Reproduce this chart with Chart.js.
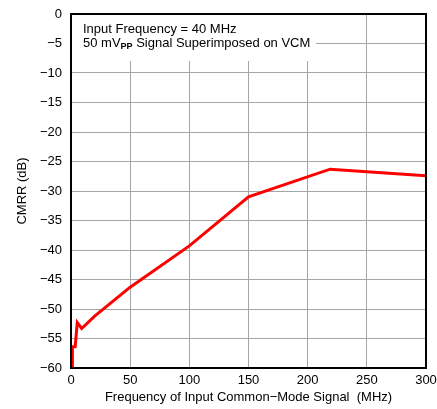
<!DOCTYPE html>
<html>
<head>
<meta charset="utf-8">
<script src="https://cdn.jsdelivr.net/npm/chart.js@4/dist/chart.umd.min.js"></script>
<style>
  html, body { margin: 0; padding: 0; background: #fff; }
  #wrap { width: 437px; height: 409px; }
</style>
</head>
<body>
<div id="wrap"><canvas id="cmrrChart" width="437" height="409"></canvas></div>
<script>
// Data
const freqMHz = [0.9, 1.2, 3.5, 5.3, 9, 20, 50, 100, 150, 219, 300];
const cmrrDb = [-60, -56.4, -56.4, -52.3, -53.3, -51.2, -46.3, -39.3, -31.0, -26.3, -27.4];

const xTicks = [0, 50, 100, 150, 200, 250, 300];
const yTicks = [0, -5, -10, -15, -20, -25, -30, -35, -40, -45, -50, -55, -60];

const noteLine1 = "Input Frequency = 40 MHz";
const noteLine2 = ["50 mV", "PP", " Signal Superimposed on VCM"];
const xTitle = "Frequency of Input Common\u2212Mode Signal  (MHz)";
const yTitle = "CMRR (dB)";

const FONT = "'Liberation Sans', Arial, sans-serif";

function minus(v) {
  return String(v).replace("-", "\u2212");
}

// draws the note box, frame and axis titles
const decorations = {
  id: "decorations",
  beforeDatasetsDraw(chart) {
    const { ctx, chartArea: a } = chart;
    ctx.save();
    // white patch behind the note text
    ctx.fillStyle = "#fff";
    ctx.fillRect(a.left, a.top, 245, 47);
    ctx.fillStyle = "#000";
    ctx.textBaseline = "alphabetic";
    ctx.font = "13px " + FONT;
    ctx.fillText(noteLine1, a.left + 12, a.top + 19);
    let x = a.left + 12;
    const y = a.top + 33;
    ctx.fillText(noteLine2[0], x, y);
    x += ctx.measureText(noteLine2[0]).width;
    ctx.font = "bold 9px " + FONT;
    ctx.fillText(noteLine2[1], x, y + 2);
    x += ctx.measureText(noteLine2[1]).width;
    ctx.font = "13px " + FONT;
    ctx.fillText(noteLine2[2], x, y);
    ctx.restore();
  },
  afterDatasetsDraw(chart) {
    const { ctx, chartArea: a } = chart;
    ctx.save();
    ctx.strokeStyle = "#000";
    ctx.lineWidth = 2;
    ctx.strokeRect(a.left, a.top, a.right - a.left, a.bottom - a.top);

    ctx.fillStyle = "#000";
    ctx.font = "13px " + FONT;
    ctx.textAlign = "center";
    ctx.textBaseline = "middle";
    ctx.fillText(xTitle, (a.left + a.right) / 2, 397);
    ctx.translate(22, (a.top + a.bottom) / 2);
    ctx.rotate(-Math.PI / 2);
    ctx.fillText(yTitle, 0, 0);
    ctx.restore();
  }
};

const ctx = document.getElementById("cmrrChart").getContext("2d");
new Chart(ctx, {
  type: "line",
  data: {
    datasets: [{
      data: freqMHz.map((f, i) => ({ x: f, y: cmrrDb[i] })),
      borderColor: "#ff0000",
      borderWidth: 3,
      pointRadius: 0,
      tension: 0,
      fill: false
    }]
  },
  options: {
    responsive: false,
    animation: false,
    devicePixelRatio: 1,
    layout: { padding: { left: 0, right: 11, top: 14, bottom: 0 } },
    plugins: {
      legend: { display: false },
      tooltip: { enabled: false }
    },
    scales: {
      x: {
        type: "linear",
        min: 0,
        max: 300,
        afterBuildTicks: s => { s.ticks = xTicks.map(v => ({ value: v })); },
        afterFit: s => { s.height = 41; s.paddingLeft = 0; s.paddingRight = 0; },
        grid: { color: "#a6a6a6", lineWidth: 1, drawTicks: false },
        border: { display: false },
        ticks: {
          color: "#000",
          font: { family: FONT, size: 13 },
          padding: 5,
          maxRotation: 0,
          callback: v => minus(v)
        }
      },
      y: {
        type: "linear",
        min: -60,
        max: 0,
        afterBuildTicks: s => { s.ticks = yTicks.map(v => ({ value: v })); },
        afterFit: s => { s.width = 71; s.paddingTop = 0; s.paddingBottom = 0; },
        grid: { color: "#a6a6a6", lineWidth: 1, drawTicks: false },
        border: { display: false },
        ticks: {
          color: "#000",
          font: { family: FONT, size: 13 },
          padding: 9,
          callback: v => minus(v)
        }
      }
    }
  },
  plugins: [decorations]
});
</script>
</body>
</html>
